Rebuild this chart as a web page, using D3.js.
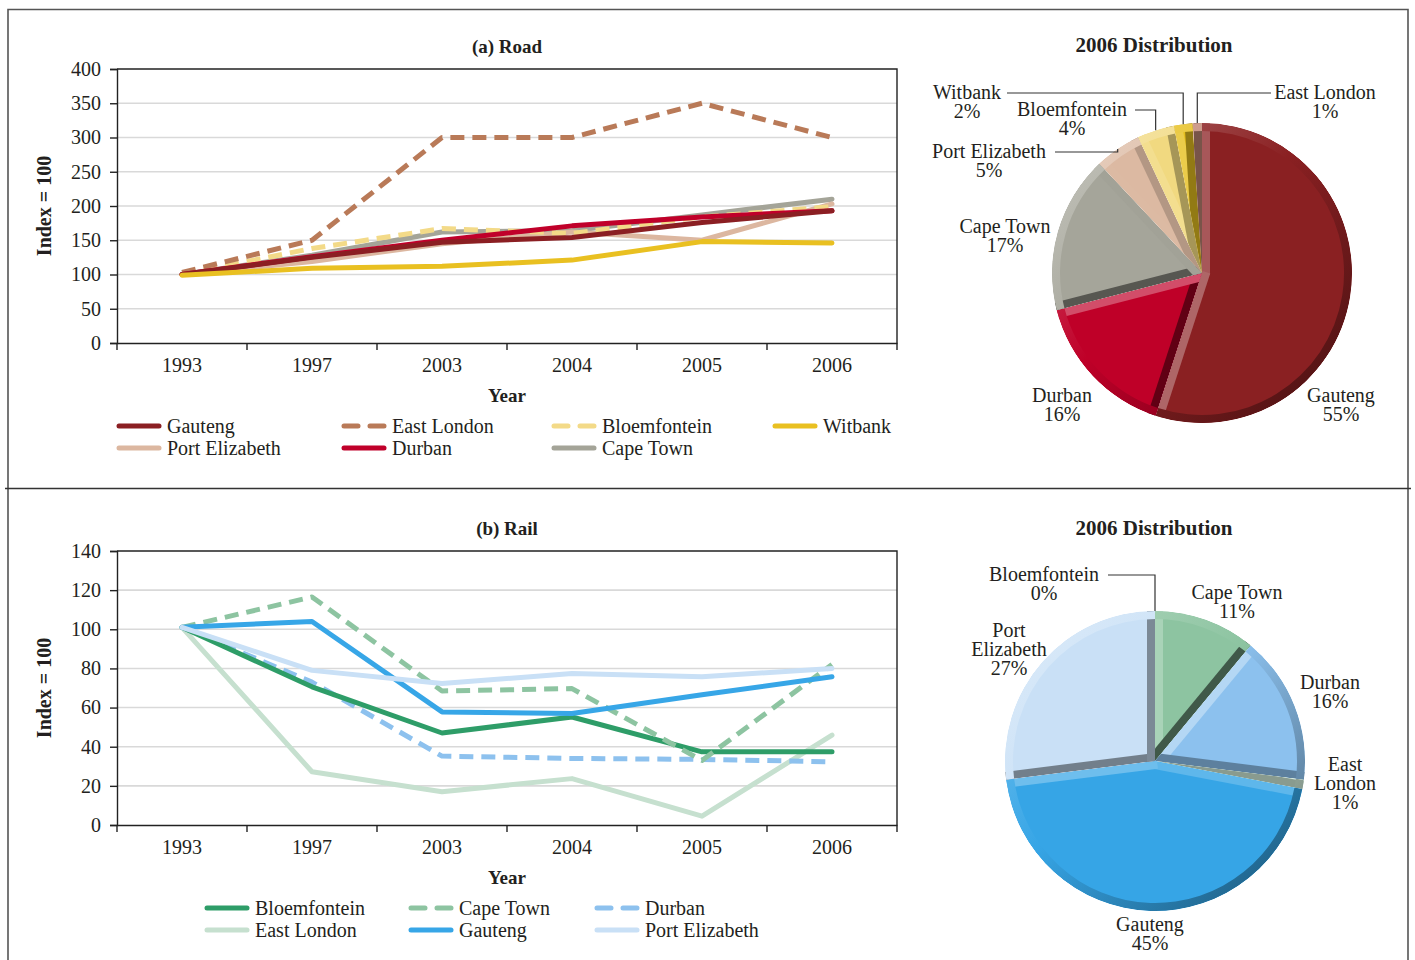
<!DOCTYPE html>
<html><head><meta charset="utf-8">
<script src="https://cdn.jsdelivr.net/npm/d3@7"></script>
<style>
body{margin:0;background:#fff}
text{font-family:"Liberation Serif","Times New Roman",serif;fill:#231f20}
</style>
</head><body>
<svg id="c" width="1415" height="960"></svg>
<script>
// ---------- DATA ----------
const years = ["1993","1997","2003","2004","2005","2006"];

// (a) Road index series
const roadGauteng       = [100,125,147,154,176,193];
const roadEastLondon    = [103,150,300,300,350,300];
const roadBloemfontein  = [100,138,167,160,184,199];
const roadWitbank       = [ 99,109,112,121,148,146];
const roadPortElizabeth = [100,119,145,162,150,203];
const roadDurban        = [100,126,150,171,184,193];
const roadCapeTown      = [100,128,162,164,187,210];
const roadYTicks = [0,50,100,150,200,250,300,350,400];

// (b) Rail index series
const railBloemfontein  = [101,70.6,47,55.2,37.4,37.4];
const railCapeTown      = [101,116.5,68.5,69.7,33,82];
const railDurban        = [101,73,35.2,34,33.5,32.3];
const railEastLondon    = [101,27.2,17,23.7,4.5,45.9];
const railGauteng       = [101,104,57.8,57,66.6,75.7];
const railPortElizabeth = [101,79,72.3,77.4,75.7,80];
const railYTicks = [0,20,40,60,80,100,120,140];

// 2006 distribution (%)
const roadPieNames  = ["Gauteng","Durban","Cape Town","Port Elizabeth","Bloemfontein","Witbank","East London"];
const roadPieValues = [55,16,17,5,4,2,1];
const railPieNames  = ["Bloemfontein","Cape Town","Durban","East London","Gauteng","Port Elizabeth"];
const railPieValues = [0,11,16,1,45,27];

// ---------- STYLE ----------
const roadColors = {"Gauteng":"#8b1f23","East London":"#b97a58","Bloemfontein":"#f3da88","Witbank":"#e9c021",
  "Port Elizabeth":"#dcb7a0","Durban":"#c0002a","Cape Town":"#a4a498"};
const roadDashed = {"East London":true,"Bloemfontein":true};
const railColors = {"Bloemfontein":"#2e9d68","Cape Town":"#8dc4a1","Durban":"#8dc1ee","East London":"#c6e0cf",
  "Gauteng":"#37a6e7","Port Elizabeth":"#c9e0f6"};
const railDashed = {"Cape Town":true,"Durban":true};

const svg = d3.select("#c");
const FS = 20;

// frame
const frame = svg.append("g").attr("stroke","#555").attr("stroke-width",1.6).attr("fill","none");
frame.append("path").attr("d","M8,960 L8,9.5 L1408,9.5 L1408,960");
frame.append("line").attr("x1",5).attr("x2",1411).attr("y1",488.5).attr("y2",488.5).attr("stroke","#333");

function lineChart(cfg){
  const g = svg.append("g");
  const x = d3.scaleBand().domain(years).range([117,897]);
  const y = d3.scaleLinear().domain([0,cfg.max]).range([cfg.y0+274,cfg.y0]);
  // grid
  g.append("g").selectAll("line").data(cfg.ticks.slice(1,-1)).join("line")
    .attr("x1",117).attr("x2",897).attr("y1",d=>y(d)).attr("y2",d=>y(d))
    .attr("stroke","#d9d9d9").attr("stroke-width",1.6);
  // plot border top/right
  g.append("path").attr("d",`M117,${y(cfg.max)} L897,${y(cfg.max)} L897,${y(0)}`)
    .attr("fill","none").attr("stroke","#222").attr("stroke-width",1.4);
  // y axis
  const ya = g.append("g").attr("transform","translate(117,0)")
    .call(d3.axisLeft(y).tickValues(cfg.ticks).tickSize(7).tickPadding(9).tickFormat(d3.format("d")));
  ya.select(".domain").attr("stroke","#222").attr("stroke-width",1.4);
  ya.selectAll(".tick line").attr("stroke","#222").attr("stroke-width",1.4);
  ya.selectAll("text").style("font-family","Liberation Serif").style("font-size",FS+"px").attr("fill","#231f20");
  // x axis
  const xa = g.append("g").attr("transform",`translate(0,${y(0)})`)
    .call(d3.axisBottom(x).tickSize(0).tickPadding(15));
  xa.select(".domain").attr("stroke","#222").attr("stroke-width",1.4);
  xa.selectAll("text").style("font-family","Liberation Serif").style("font-size",FS+"px").attr("fill","#231f20");
  const bounds = years.map(d=>x(d)).concat([x.range()[1]]);
  g.append("g").selectAll("line").data(bounds).join("line")
    .attr("x1",d=>d).attr("x2",d=>d).attr("y1",y(0)).attr("y2",y(0)+7)
    .attr("stroke","#222").attr("stroke-width",1.4);
  // labels
  g.append("text").attr("x",507).attr("y",cfg.y0-16).attr("text-anchor","middle")
    .style("font-weight","bold").style("font-size","19px").text(cfg.title);
  g.append("text").attr("x",507).attr("y",y(0)+59).attr("text-anchor","middle")
    .style("font-weight","bold").style("font-size","19px").text("Year");
  g.append("text").attr("transform",`translate(51,${cfg.y0+137}) rotate(-90)`).attr("text-anchor","middle")
    .style("font-weight","bold").style("font-size","20px").text("Index = 100");
  // lines
  const line = d3.line().x((d,i)=>x(years[i])+x.bandwidth()/2).y(d=>y(d));
  cfg.drawOrder.forEach(name=>{
    const s = cfg.series.find(s=>s.name===name);
    g.append("path").datum(s.values).attr("d",line).attr("fill","none")
      .attr("stroke",cfg.colors[name]).attr("stroke-width",5)
      .attr("stroke-linejoin","round").attr("stroke-linecap",cfg.dashed[name]?"butt":"round")
      .attr("stroke-dasharray",cfg.dashed[name]?"14,8":null);
  });
  // legend
  const lg = g.append("g");
  cfg.series.forEach((s,i)=>{
    const col = i % cfg.legendCols.length, row = Math.floor(i / cfg.legendCols.length);
    const lx = cfg.legendCols[col], ly = cfg.legendY + row*22;
    lg.append("line").attr("x1",lx).attr("x2",lx+40).attr("y1",ly).attr("y2",ly)
      .attr("stroke",cfg.colors[s.name]).attr("stroke-width",5).attr("stroke-linecap","round")
      .attr("stroke-dasharray",cfg.dashed[s.name]?"14,12":null);
    lg.append("text").attr("x",lx+48).attr("y",ly).attr("dy","0.33em")
      .style("font-size",FS+"px").text(s.name);
  });
}

lineChart({
  y0:69, max:400, ticks:roadYTicks, title:"(a) Road",
  series:[{name:"Gauteng",values:roadGauteng},{name:"East London",values:roadEastLondon},
    {name:"Bloemfontein",values:roadBloemfontein},{name:"Witbank",values:roadWitbank},
    {name:"Port Elizabeth",values:roadPortElizabeth},{name:"Durban",values:roadDurban},
    {name:"Cape Town",values:roadCapeTown}],
  drawOrder:["Cape Town","Port Elizabeth","Bloemfontein","East London","Durban","Gauteng","Witbank"],
  colors:roadColors, dashed:roadDashed,
  legendCols:[119,344,554,775], legendY:426
});
lineChart({
  y0:551, max:140, ticks:railYTicks, title:"(b) Rail",
  series:[{name:"Bloemfontein",values:railBloemfontein},{name:"Cape Town",values:railCapeTown},
    {name:"Durban",values:railDurban},{name:"East London",values:railEastLondon},
    {name:"Gauteng",values:railGauteng},{name:"Port Elizabeth",values:railPortElizabeth}],
  drawOrder:["East London","Durban","Bloemfontein","Cape Town","Gauteng","Port Elizabeth"],
  colors:railColors, dashed:railDashed,
  legendCols:[207,411,597], legendY:908
});

// ---------- PIES ----------
let clipId = 0;
function pieChart(cfg){
  const r = cfg.r;
  svg.append("text").attr("x",cfg.titleX).attr("y",cfg.titleY).attr("text-anchor","middle")
    .style("font-weight","bold").style("font-size","21px").text("2006 Distribution");
  const data = cfg.names.map((n,i)=>({name:n,value:cfg.values[i]}));
  const arcs = d3.pie().sort(null).value(d=>d.value)(data);
  const arc = d3.arc().innerRadius(0).outerRadius(r);
  const rim = d3.arc().innerRadius(r-8).outerRadius(r);
  const defs = svg.append("defs");
  const L = [-Math.SQRT1_2,-Math.SQRT1_2];
  arcs.forEach(a=>{
    if (a.endAngle - a.startAngle < 1e-6) return;
    const c = cfg.colors[a.data.name];
    const id = "clip"+(clipId++);
    defs.append("clipPath").attr("id",id).append("path").attr("d",arc(a))
      .attr("transform",`translate(${cfg.cx},${cfg.cy})`);
    const gid = "grad"+id;
    const grad = defs.append("linearGradient").attr("id",gid).attr("gradientUnits","userSpaceOnUse")
      .attr("x1",-r).attr("y1",-r).attr("x2",r).attr("y2",r);
    grad.append("stop").attr("offset",0).attr("stop-color",d3.interpolateRgb(c,"#fff")(0.35));
    grad.append("stop").attr("offset",0.45).attr("stop-color",c);
    grad.append("stop").attr("offset",1).attr("stop-color",d3.interpolateRgb(c,"#000")(0.5));
    const sg = svg.append("g").attr("clip-path",`url(#${id})`)
      .append("g").attr("transform",`translate(${cfg.cx},${cfg.cy})`);
    sg.append("path").attr("d",arc(a)).attr("fill",c);
    // radial edge bands
    [[a.startAngle,-1],[a.endAngle,1]].forEach(([ang,sgn])=>{
      const u = [Math.sin(ang),-Math.cos(ang)];
      const nOut = [sgn*Math.cos(ang), sgn*Math.sin(ang)];
      const nIn = [-nOut[0],-nOut[1]];
      const dot = nOut[0]*L[0]+nOut[1]*L[1];
      const col = dot>=0 ? d3.interpolateRgb(c,"#fff")(0.35*dot) : d3.interpolateRgb(c,"#000")(0.55*(-dot));
      const w = 8, ext = r+4;
      const pts = [[-u[0]*2,-u[1]*2],[u[0]*ext,u[1]*ext],
        [u[0]*ext+nIn[0]*w,u[1]*ext+nIn[1]*w],[-u[0]*2+nIn[0]*w,-u[1]*2+nIn[1]*w]];
      sg.append("path").attr("d",d3.line()(pts)+"Z").attr("fill",col);
    });
    sg.append("path").attr("d",rim(a)).attr("fill",`url(#${gid})`);
  });
  // labels
  arcs.forEach(a=>{
    const lab = cfg.labels[a.data.name];
    const lines = lab.text.concat([a.data.value+"%"]);
    const t = svg.append("text").attr("text-anchor","middle").style("font-size",FS+"px");
    lines.forEach((s,i)=>t.append("tspan").attr("x",lab.x).attr("y",lab.y+i*19).text(s));
    if (lab.leader){
      const mid = (a.startAngle+a.endAngle)/2;
      const px = cfg.cx + Math.sin(mid)*r, py = cfg.cy - Math.cos(mid)*r;
      const ly = lab.y-6;
      svg.append("path").attr("d",`M${lab.leader},${ly} L${px},${ly} L${px},${py}`)
        .attr("fill","none").attr("stroke","#333").attr("stroke-width",1.2);
    }
  });
}

pieChart({
  cx:1202, cy:273, r:150, titleX:1154, titleY:52, names:roadPieNames, values:roadPieValues,
  colors:{"Gauteng":"#8a2022","Durban":"#bf0028","Cape Town":"#a5a59a","Port Elizabeth":"#dcb9a2",
    "Bloemfontein":"#f1d980","Witbank":"#e6bf1f","East London":"#c48a78"},
  labels:{
    "Gauteng":{x:1341,y:402,text:["Gauteng"]},
    "Durban":{x:1062,y:402,text:["Durban"]},
    "Cape Town":{x:1005,y:233,text:["Cape Town"]},
    "Port Elizabeth":{x:989,y:158,text:["Port Elizabeth"],leader:1055},
    "Bloemfontein":{x:1072,y:116,text:["Bloemfontein"],leader:1135},
    "Witbank":{x:967,y:99,text:["Witbank"],leader:1007},
    "East London":{x:1325,y:99,text:["East London"],leader:1271}
  }
});
pieChart({
  cx:1155, cy:761, r:150, titleX:1154, titleY:535, names:railPieNames, values:railPieValues,
  colors:{"Bloemfontein":"#2e9d68","Cape Town":"#8dc4a1","Durban":"#8cc1ee","East London":"#c6e0cf",
    "Gauteng":"#36a5e6","Port Elizabeth":"#c9e0f6"},
  labels:{
    "Bloemfontein":{x:1044,y:581,text:["Bloemfontein"],leader:1108},
    "Cape Town":{x:1237,y:599,text:["Cape Town"]},
    "Durban":{x:1330,y:689,text:["Durban"]},
    "East London":{x:1345,y:771,text:["East","London"]},
    "Gauteng":{x:1150,y:931,text:["Gauteng"]},
    "Port Elizabeth":{x:1009,y:637,text:["Port","Elizabeth"]}
  }
});
</script>
</body></html>
